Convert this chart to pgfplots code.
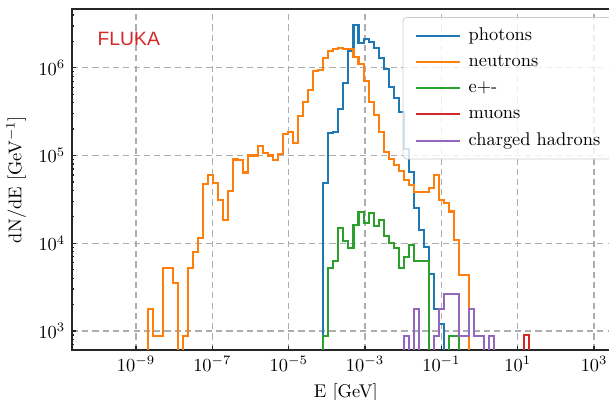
\documentclass[border=0pt]{standalone}
\usepackage{fontspec}
\usepackage{pgfplots}
\pgfplotsset{compat=1.18}
\newfontfamily\flukafont{Liberation Sans}
\definecolor{cphot}{HTML}{1F77B4}
\definecolor{cneut}{HTML}{FF7F0E}
\definecolor{cepm}{HTML}{2CA02C}
\definecolor{cmuon}{HTML}{D62728}
\definecolor{chadr}{HTML}{9467BD}

\begin{document}
\begin{tikzpicture}
\begin{axis}[
    at={(0,0)}, anchor=south west,
    scale only axis, width=298pt, height=185.3pt,
    xmode=log, ymode=log,
    xmin=2.065e-11, xmax=4786,
    ymin=607.5, ymax=4.667e6,
    xtick={1e-9,1e-7,1e-5,1e-3,1e-1,1e1,1e3},
    ytick={1e3,1e4,1e5,1e6},
    minor ytick={700,800,900,2000,3000,4000,5000,6000,7000,8000,9000,2e4,3e4,4e4,5e4,6e4,7e4,8e4,9e4,2e5,3e5,4e5,5e5,6e5,7e5,8e5,9e5,2e6,3e6,4e6},
    xtick pos=left, ytick pos=left,
    tick align=inside,
    major tick length=2.4pt, minor tick length=1.3pt,
    every tick/.style={black!85, line width=0.7pt},
    axis line style={line width=1pt, black!85},
    grid=major,
    major grid style={dash pattern=on 3.4pt off 2.2pt, color=black!32, line width=0.65pt},
    xlabel={E [GeV]},
    ylabel={dN/dE [GeV$^{-1}$]},
    const plot mark left,
    legend entries={photons, neutrons, e+-, muons, charged hadrons},
    legend cell align=left,
    legend image code/.code={\draw[#1, line width=1.1pt] (0pt,0pt) -- (24pt,0pt);},
    legend style={at={(0.6035,0.9765)}, anchor=north west,
        draw=black!20, rounded corners=2pt, fill=white, fill opacity=0.8, text opacity=1,
        inner xsep=6.5pt, inner ysep=3pt, row sep=0pt, column sep=1.5pt,
        nodes={inner sep=2.6pt, text height=7pt, text depth=2pt}},
]
% photons
\addplot[cphot, line width=1.1pt, mark=none] coordinates {
(8.111e-5,1) (8.111e-5,48500) (1.097e-4,180000) (1.485e-4,184000) (2.009e-4,336000)
(2.719e-4,664000) (3.678e-4,1550000) (4.977e-4,3100000) (6.734e-4,1890000) (9.112e-4,2120000)
(1.233e-3,1970000) (1.668e-3,1690000) (2.257e-3,1280000) (3.054e-3,980000) (4.132e-3,608000)
(5.591e-3,456000) (7.565e-3,316000) (1.024e-2,120000) (1.385e-2,65000) (1.874e-2,25000)
(2.535e-2,14000) (3.431e-2,9000) (4.642e-2,4500) (6.280e-2,1800) (8.498e-2,1200)
(0.1150,1) (0.2848,880) (0.3854,880) (0.5214,1)
};
% neutrons
\addplot[cneut, line width=1.1pt, mark=none] coordinates {
(2.057e-9,1) (2.057e-9,1780) (2.783e-9,880) (3.765e-9,880) (5.094e-9,5230) (6.893e-9,5230)
(9.326e-9,3480) (1.262e-8,1) (1.707e-8,880) (2.310e-8,5230) (3.126e-8,7890) (4.229e-8,11400)
(5.722e-8,47000) (7.743e-8,60100) (1.048e-7,49000) (1.418e-7,30800) (1.918e-7,18200)
(2.595e-7,39400) (3.511e-7,90000) (4.751e-7,88000) (6.428e-7,64000) (8.697e-7,100000)
(1.177e-6,100000) (1.592e-6,129000) (2.154e-6,106000) (2.915e-6,100000) (3.944e-6,89000)
(5.337e-6,103000) (7.221e-6,175000) (9.770e-6,184000) (1.322e-5,138000) (1.789e-5,282000)
(2.420e-5,404000) (3.275e-5,557000) (4.431e-5,920000) (5.995e-5,940000) (8.111e-5,1300000)
(1.097e-4,1550000) (1.485e-4,1630000) (2.009e-4,1690000) (2.719e-4,1630000) (3.678e-4,1650000)
(4.977e-4,1330000) (6.734e-4,1090000) (9.112e-4,705000) (1.233e-3,411000) (1.668e-3,290000)
(2.257e-3,187000) (3.054e-3,111000) (4.132e-3,91600) (5.591e-3,78300) (7.565e-3,65800)
(1.024e-2,53000) (1.385e-2,46000) (1.874e-2,38500) (2.535e-2,38500) (3.431e-2,38500)
(4.642e-2,43000) (6.280e-2,60000) (8.498e-2,31000) (0.1150,29000) (0.1556,23000)
(0.2105,11000) (0.2848,4400) (0.3854,4400) (0.5214,1)
};
% e+-
\addplot[cepm, line width=1.1pt, mark=none] coordinates {
(8.111e-5,1) (8.111e-5,877) (1.097e-4,5200) (1.485e-4,6300) (2.009e-4,14900) (2.719e-4,10500)
(3.678e-4,8800) (4.977e-4,16200) (6.734e-4,22600) (9.112e-4,17000) (1.233e-3,22000)
(1.668e-3,15900) (2.257e-3,18200) (3.054e-3,12200) (4.132e-3,10000) (5.591e-3,8800)
(7.565e-3,5250) (1.024e-2,7000) (1.385e-2,9500) (1.874e-2,6200) (2.535e-2,6200)
(3.431e-2,6200) (4.642e-2,1) (0.1556,880) (0.2105,880) (0.2848,1)
};
% muons
\addplot[cmuon, line width=1.1pt, mark=none] coordinates {
(14.51,1) (14.51,900) (19.63,900) (19.63,1)
};
% charged hadrons
\addplot[chadr, line width=1.1pt, mark=none] coordinates {
(1.024e-2,1) (1.024e-2,870) (1.385e-2,1) (1.874e-2,1780) (2.535e-2,1) (6.280e-2,870)
(8.498e-2,1780) (0.1150,2630) (0.1556,2630) (0.2105,2630) (0.2848,870) (0.3854,870)
(0.5214,1780) (0.7055,870) (0.9545,870) (1.292,1) (1.748,870) (2.364,1)
};
\node[anchor=west, inner sep=0pt, text=cmuon, font=\flukafont\fontsize{10.5}{12}\selectfont]
    at (axis description cs:0.0467,0.912) {FLUKA};
\end{axis}
\pgfresetboundingbox
\path[use as bounding box] (-38.97pt,-27.17pt) rectangle (292pt,190.2pt);
\end{tikzpicture}
\end{document}
